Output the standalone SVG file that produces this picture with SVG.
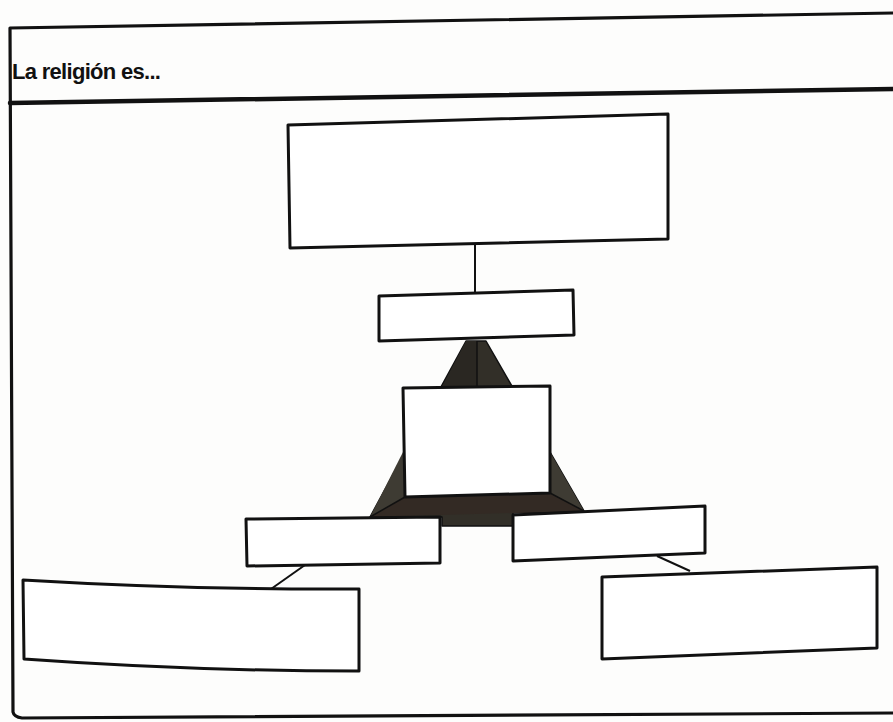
<svg xmlns="http://www.w3.org/2000/svg" width="893" height="722" viewBox="0 0 893 722">
<style>
.frame{fill:none;stroke:#111;stroke-width:3.2;stroke-linecap:round;stroke-linejoin:round}
.box{fill:#fff;stroke:#111;stroke-width:3;stroke-linejoin:round}
.conn{fill:none;stroke:#111;stroke-width:2}
.edge{fill:none;stroke:#111;stroke-width:1.5;stroke-linejoin:round}
.title{font-family:"Liberation Sans",Arial,sans-serif;font-weight:bold;font-size:22px;fill:#111;letter-spacing:-0.7px}
</style>
<rect width="893" height="722" fill="#fdfdfc"/>
<g id="frame">
<path class="frame" d="M893,13 L10,28 L13,712 Q14,717 22,718 L893,713"/>
<path class="frame" d="M10,103 L893,89" style="stroke-width:4.5"/>
<text class="title" x="12" y="79">La religión es...</text>
</g>
<g id="pyramid">
<polygon points="466,341 486,341 584,511 513,513 513,526 442,526 442,517 370,517" fill="#322f28" stroke="#111" stroke-width="1.5" stroke-linejoin="round"/>
<polygon points="466,341 477,341 477,387 442,387" fill="#2a2722"/>
<polygon points="405,497 550,493 584,511 370,517" fill="#332a24"/>
<polygon points="370,517 403,452 405,497" fill="#3e3b33"/>
<polygon points="584,511 550,452 550,493" fill="#3e3b33"/>
<path class="edge" d="M477,341 L477,387 M405,497 L370,517 M550,493 L584,511"/>
</g>
<g id="connectors">
<line class="conn" x1="475" y1="244" x2="475" y2="294"/>
<line class="conn" x1="305" y1="565" x2="271" y2="589"/>
<line class="conn" x1="657" y1="556" x2="690" y2="571"/>
</g>
<g id="node-top">
<polygon class="box" points="288,125 668,114 668,239 290,248"/>
</g>
<g id="node-label-top">
<polygon class="box" points="379,296 573,290 574,335 379,341"/>
</g>
<g id="node-center">
<polygon class="box" points="403,388 550,386 550,493 405,497"/>
</g>
<g id="node-label-left">
<polygon class="box" points="246,519 440,517 440,563 247,566"/>
</g>
<g id="node-label-right">
<polygon class="box" points="513,515 705,506 705,553 513,561"/>
</g>
<g id="node-bottom-left">
<path class="box" d="M23,580 Q190,590 359,589 L359,671 Q190,671 24,659 Z"/>
</g>
<g id="node-bottom-right">
<polygon class="box" points="602,577 877,567 877,648 602,659"/>
</g>
</svg>
